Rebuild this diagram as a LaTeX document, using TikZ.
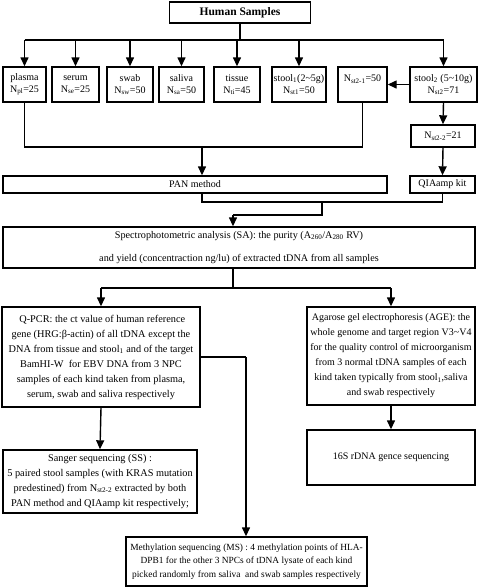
\documentclass[tikz,border=0pt]{standalone}
\usepackage{fontspec}
\setmainfont{Liberation Serif}
\usetikzlibrary{arrows.meta}
\begin{document}
\begin{tikzpicture}[x=1pt,y=-1pt,
 box/.style={draw, line width=1.4pt, inner sep=0pt, align=center, font=\fontsize{10}{12}\selectfont},
 ptxt/.style={font=\fontsize{10.3}{15}\selectfont},
 arr/.style={line width=1.4pt, -{Triangle[length=9pt,width=8pt]}},
 ln/.style={line width=1.4pt}]
\useasboundingbox (0,0) rectangle (480,587);
% nodes
\node[box, minimum width=141, minimum height=21, font=\fontsize{11.5}{13}\selectfont\bfseries] (hs) at (240,12.5) {Human Samples};
\node[box, minimum width=43, minimum height=35] (plasma) at (24.5,84.5) {plasma\\N\textsubscript{pl}=25};
\node[box, minimum width=47, minimum height=35] (serum) at (75.5,84.5) {serum\\N\textsubscript{se}=25};
\node[box, minimum width=46, minimum height=35] (swab) at (130,84.5) {swab\\N\textsubscript{sw}=50};
\node[box, minimum width=45, minimum height=35] (saliva) at (181.5,84.5) {saliva\\N\textsubscript{sa}=50};
\node[box, minimum width=46, minimum height=35] (tissue) at (237,84.5) {tissue\\N\textsubscript{ti}=45};
\node[box, minimum width=54, minimum height=35] (stoolone) at (299,84.5) {stool\textsubscript{1}(2\textasciitilde5g)\\N\textsubscript{st1}=50};
\node[box, minimum width=49, minimum height=35] (nsttwoone) at (362.5,84.5) {N\textsubscript{st2-1}=50\\\mbox{}};
\node[box, minimum width=67, minimum height=35] (stooltwo) at (443.5,84.5) {stool\textsubscript{2} (5\textasciitilde10g)\\N\textsubscript{st2}=71};
\node[box, minimum width=64, minimum height=22] (nsttwotwo) at (443,136) {N\textsubscript{st2-2}=21};
\node[box, minimum width=384, minimum height=17] (pan) at (195,184.5) {PAN method};
\node[box, minimum width=65, minimum height=17] (qia) at (442.5,184.5) {QIAamp kit};
\node[box, minimum width=472, minimum height=41, font=\fontsize{10.2}{23}\selectfont] (sa) at (239,247.5) {Spectrophotometric analysis (SA): the purity (A\textsubscript{260}/A\textsubscript{280} RV)\\and yield (concentraction ng/lu) of extracted tDNA from all samples};
\node[box, ptxt, minimum width=198, minimum height=100] (qpcr) at (101,357) {\ Q-PCR: the ct value of human reference\\gene (HRG:β-actin) of all tDNA except the\\DNA from tissue and stool\textsubscript{1} and of the target\\BamHI-W\ \ for EBV DNA from 3 NPC\\samples of each kind taken from plasma,\\serum, swab and saliva respectively};
\node[box, font=\fontsize{10}{15}\selectfont, minimum width=168, minimum height=98] (age) at (391,356) {Agarose gel electrophoresis (AGE): the\\whole genome and target region V3\textasciitilde V4\\for the quality control of microorganism\\from 3 normal tDNA samples of each\\kind taken typically from stool\textsubscript{1},saliva\\and swab respectively};
\node[box, minimum width=168, minimum height=55] (sixteen) at (391,457.5) {16S rDNA gence sequencing};
\node[box, ptxt, minimum width=194, minimum height=63] (sanger) at (100,481.5) {Sanger sequencing (SS) :\\5 paired stool samples (with KRAS mutation\\predestined) from N\textsubscript{st2-2} extracted by both\\PAN method and QIAamp kit respectively;};
\node[box, font=\fontsize{9.4}{13.5}\selectfont, minimum width=241, minimum height=49] (meth) at (246.5,561.5) {Methylation sequencing (MS) : 4 methylation points of HLA-\\DPB1 for the other 3 NPCs of tDNA lysate of each kind\\picked randomly from saliva\ \ and swab samples respectively};
% helper coordinates
\coordinate (busy) at (0,40);
\coordinate (jA) at (0,147);
\coordinate (jAm) at (202,147);
\coordinate (jB) at (0,202);
\coordinate (jBm) at (322,202);
\coordinate (jC) at (233,215);
\coordinate (jD) at (0,288);
\coordinate (jE) at (246,357);
% connectors top
\draw[ln] (hs.south) -- (hs.south |- busy);
\draw[ln] (plasma.north |- busy) -- (stooltwo.north |- busy);
\foreach \n in {plasma,serum,swab,saliva,tissue,stoolone,stooltwo}
  \draw[arr] (\n.north |- busy) -- (\n.north);
\draw[arr] (stooltwo.west) -- (nsttwoone.east);
\draw[arr] (stooltwo.south) -- (nsttwotwo.north);
\draw[arr] (nsttwotwo.south) -- (qia.north);
\draw[ln] (plasma.south) |- (jA -| nsttwoone.south) -- (nsttwoone.south);
\draw[arr] (jAm) -- (jAm |- pan.north);
\draw[ln] (jAm |- pan.south) |- (jB -| qia.south) -- (qia.south);
\draw[ln] (jBm) |- (jC);
\draw[arr] (jC) -- (jC |- sa.north);
\draw[ln] (sa.south -| jC) -- (jC |- jD);
\draw[ln] (jD -| qpcr.north) -- (jD -| age.north);
\draw[arr] (jD -| qpcr.north) -- (qpcr.north);
\draw[arr] (jD -| age.north) -- (age.north);
\draw[arr] (qpcr.south) -- (sanger.north);
\draw[arr] (age.south) -- (sixteen.north);
\draw[ln] (qpcr.east |- jE) -- (jE);
\draw[arr] (jE) -- (jE |- meth.north);
\end{tikzpicture}
\end{document}
